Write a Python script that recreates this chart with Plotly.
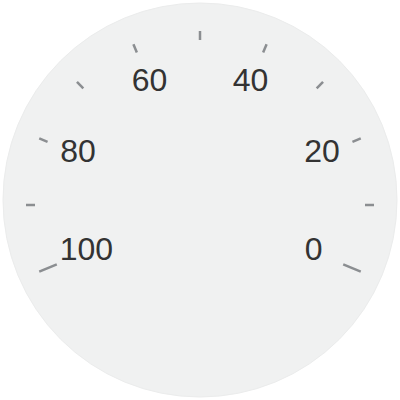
import plotly.graph_objects as go

# gauge scale
scale_min = 0
scale_max = 100
tick_values = [0, 10, 20, 30, 40, 50, 60, 70, 80, 90, 100]
label_values = [0, 20, 40, 60, 80, 100]
label_texts = ["0", "20", "40", "60", "80", "100"]
long_ticks = [0, 100]

SWEEP = 225  # degrees covered by the scale
START = -22.5  # where 0 sits, scale runs counterclockwise


def to_theta(v):
    return (v - scale_min) / (scale_max - scale_min) * SWEEP


fig = go.Figure()

# tick marks as short radial segments
tick_r = []
tick_t = []
for v in tick_values:
    inner = 155 if v in long_ticks else 165
    tick_r += [inner, 174, None]
    tick_t += [to_theta(v), to_theta(v), None]

fig.add_trace(go.Scatterpolar(
    r=tick_r,
    theta=tick_t,
    mode="lines",
    line=dict(color="#8b8e91", width=2.5),
    hoverinfo="skip",
    showlegend=False,
))

# labels next to the long end ticks sit a bit further in
label_r = [123 if v in long_ticks else 132 for v in label_values]

fig.add_trace(go.Scatterpolar(
    r=label_r,
    theta=[to_theta(v) for v in label_values],
    mode="text",
    text=label_texts,
    textposition="middle center",
    textfont=dict(family="Arial, Liberation Sans, sans-serif", size=32, color="#333333"),
    hoverinfo="skip",
    showlegend=False,
))

fig.update_layout(
    width=400,
    height=400,
    margin=dict(l=0, r=0, t=0, b=0),
    paper_bgcolor="white",
    plot_bgcolor="white",
    shapes=[dict(
        type="circle",
        xref="paper", yref="paper",
        x0=3 / 400, x1=397 / 400, y0=3 / 400, y1=397 / 400,
        fillcolor="#f0f1f1",
        line=dict(color="#ebecec", width=1),
        layer="below",
    )],
    polar=dict(
        domain=dict(x=[5 / 400, 395 / 400], y=[0, 390 / 400]),
        bgcolor="rgba(0,0,0,0)",
        radialaxis=dict(range=[0, 195], visible=False),
        angularaxis=dict(
            visible=False,
            direction="counterclockwise",
            rotation=START,
        ),
    ),
)

fig.write_html(
    "out.html",
    config={"displayModeBar": False},
    post_script="document.body.style.margin='0';document.body.style.overflow='hidden';",
)
